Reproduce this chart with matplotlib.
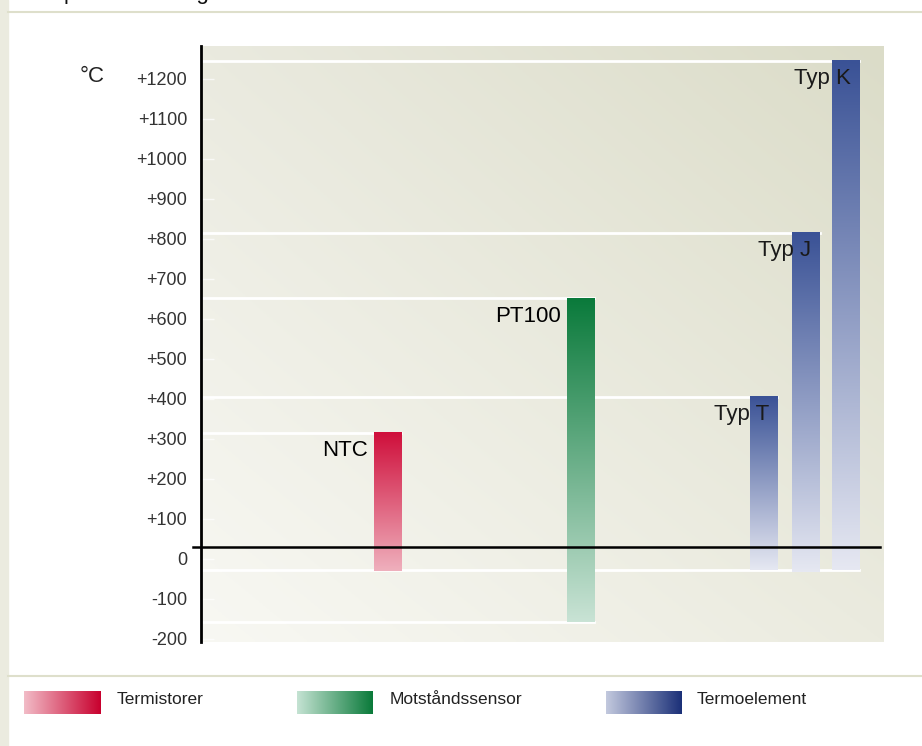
#! /usr/bin/env python3
# -*- coding: utf-8 -*-

import numpy as np
import matplotlib
matplotlib.use("Agg")
import matplotlib.pyplot as plt
from matplotlib.colors import LinearSegmentedColormap, to_rgb

plt.rcParams['font.family'] = ['Liberation Sans', 'DejaVu Sans']

## Data

sensors = ["NTC", "PT100", "Typ T", "Typ J", "Typ K"]
t_min = [-30, -157, -28, -33, -28]
t_max = [315, 652, 405, 815, 1245]
groups = [0, 1, 2, 2, 2]          # index into legend groups
bold_label = [True, True, False, False, False]

group_names = ["Termistorer", "Motståndssensor", "Termoelement"]
yticks = [-200, -100, 0, 100, 200, 300, 400, 500, 600, 700, 800, 900, 1000, 1100, 1200]
ytick_labels = ["-200", "-100", "0"] + ["+%d" % v for v in yticks[3:]]

## Layout / style

W, H = 922, 746
bar_x = [27.3, 55.6, 82.5, 88.7, 94.5]   # bar centres, axis units 0..100
bar_w = 4.0
zero_line_y = 30
group_dark = ["#cf0f3b", "#0a7a3b", "#3a5296"]
group_light = ["#efb0bd", "#c9e3d5", "#e6e8f2"]
legend_dark = ["#c8002e", "#0a7a3a", "#1b3078"]
legend_light = ["#f2bcc7", "#c5e3d3", "#c3c9de"]


def px(x, y, w, h):
    # pixel box (top-left origin) -> figure fraction rect
    return [x / W, 1 - (y + h) / H, w / W, h / H]


def gradient_cmap(light, dark):
    return LinearSegmentedColormap.from_list("g", [light, dark])


fig = plt.figure(figsize=(W / 100, H / 100), dpi=100, facecolor="white")

# left beige strip and separators
fig.patches.append(plt.Rectangle((0, 0), 8 / W, 1, transform=fig.transFigure,
                                 color="#ebebdf", zorder=0))
fig.add_artist(plt.Line2D([8 / W, 1], [1 - 12 / H, 1 - 12 / H], color="#dedfcb", lw=1.5))
fig.add_artist(plt.Line2D([8 / W, 1], [1 - 676 / H, 1 - 676 / H], color="#dedfcb", lw=1.5))

# title, cut off by the top edge as in the source
fig.text(22 / W, 1 + 0.5 / H, "Temperaturomfång", fontsize=16, color="#111111",
         va="baseline", ha="left")

## Main axes

ax = fig.add_axes(px(201, 46, 682, 596))
ylo, yhi = -207.5, 1282
ax.set_xlim(0, 100)
ax.set_ylim(ylo, yhi)

# background panel gradient
nx, ny = 200, 200
u = np.linspace(0, 1, nx)[None, :]
v = np.linspace(0, 1, ny)[:, None]
c_bl = np.array(to_rgb("#f8f8f3"))
c_tr = np.array(to_rgb("#dbdcc8"))
c_tl = np.array(to_rgb("#eaeadf"))
c_br = np.array(to_rgb("#ebebdf"))
img = ((1 - u) * (1 - v))[..., None] * c_bl + (u * (1 - v))[..., None] * c_br \
    + ((1 - u) * v)[..., None] * c_tl + (u * v)[..., None] * c_tr
ax.imshow(img, extent=(0, 100, ylo, yhi), origin="lower", aspect="auto", zorder=0)

# white guide lines at each bar top, and at the bottoms (merged when close)
for i in range(len(sensors)):
    right = (bar_x[i] + bar_w / 2) / 100
    ax.axhline(t_max[i], xmin=0, xmax=right, color="white", lw=2, zorder=1)
bottoms = {}
for i in range(len(sensors)):
    key = round(t_min[i] / 10)
    right = (bar_x[i] + bar_w / 2) / 100
    if key not in bottoms or right > bottoms[key][1]:
        bottoms[key] = (t_min[i], right)
for val, right in bottoms.values():
    ax.axhline(val, xmin=0, xmax=right, color="white", lw=2, zorder=1)

# gradient bars
grad = np.linspace(0, 1, 256)[:, None]
for i, name in enumerate(sensors):
    g = groups[i]
    x0 = bar_x[i] - bar_w / 2
    ax.imshow(grad, cmap=gradient_cmap(group_light[g], group_dark[g]),
              extent=(x0, x0 + bar_w, t_min[i], t_max[i]), origin="lower",
              aspect="auto", zorder=2)
    ax.text(bar_x[i] + bar_w / 2 - 1.2 if not bold_label[i] else x0 - 0.9,
            t_max[i] - 45, name, fontsize=16, ha="right", va="center",
            color="#000000" if bold_label[i] else "#1a1a1a", zorder=3)

# zero line
ax.plot([-1.2, 99.6], [zero_line_y, zero_line_y], color="black", lw=1.8,
        clip_on=False, zorder=4)

# axes styling
for s in ["top", "right", "bottom"]:
    ax.spines[s].set_visible(False)
ax.spines["left"].set_linewidth(2)
ax.set_xticks([])
ax.set_yticks(yticks)
ax.set_yticklabels(ytick_labels)
ax.tick_params(axis="y", direction="in", length=9, width=1, color=(1, 1, 1, 0.7),
               pad=10, labelsize=13, labelcolor="#333333")
ax.set_xlim(0, 100)
ax.set_ylim(ylo, yhi)

fig.text(80 / W, 1 - 77 / H, "°C", fontsize=16, color="#222222", va="center", ha="left")

## Legend

leg_x = [24, 297, 606]
txt_x = [117, 390, 697]
for i, name in enumerate(group_names):
    lax = fig.add_axes(px(leg_x[i], 691, 76, 23))
    lax.imshow(np.linspace(0, 1, 256)[None, :],
               cmap=gradient_cmap(legend_light[i], legend_dark[i]), aspect="auto")
    lax.axis("off")
    fig.text(txt_x[i] / W, 1 - 699 / H, name, fontsize=12.5, color="#222222",
             va="center", ha="left")

fig.savefig("out.png", dpi=100, facecolor="white")
